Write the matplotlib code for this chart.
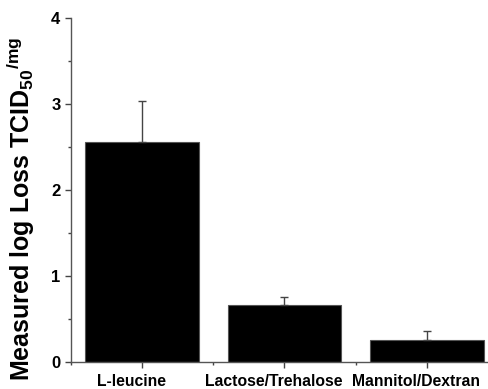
import matplotlib
matplotlib.use('Agg')
import matplotlib.pyplot as plt
import matplotlib.transforms as mtransforms
from matplotlib.ticker import MultipleLocator, FixedLocator

plt.rcParams['font.family'] = ['Liberation Sans', 'DejaVu Sans']
plt.rcParams['mathtext.fontset'] = 'custom'
plt.rcParams['mathtext.rm'] = 'Liberation Sans:bold'
plt.rcParams['mathtext.it'] = 'Liberation Sans:bold'
plt.rcParams['mathtext.bf'] = 'Liberation Sans:bold'

categories = ['L-leucine', 'Lactose/Trehalose', 'Mannitol/Dextran']
values = [2.56, 0.66, 0.26]
errors = [0.48, 0.10, 0.10]

fig = plt.figure(figsize=(4.89, 3.89), dpi=100)
ax = fig.add_axes([0.145, 0.069, 0.853, 0.885])

x = list(range(len(categories)))
ax.bar(x, values, width=0.8, color='black', edgecolor='#555555', linewidth=0.8)
ax.errorbar(x, values, yerr=[[0] * len(errors), errors], fmt='none',
            ecolor='#444444', elinewidth=1.0, capsize=3, capthick=1.0)

ax.set_xlim(-0.5, 2.43)
ax.set_ylim(0, 4)
ax.set_xticks(x)
ax.set_xticklabels([])
ax.xaxis.set_minor_locator(FixedLocator([-0.5, 0.5, 1.5]))
ax.yaxis.set_major_locator(MultipleLocator(1))
ax.yaxis.set_minor_locator(MultipleLocator(0.5))
for lab in ax.get_yticklabels():
    lab.set_fontweight('bold')
    lab.set_fontsize(12)

# category labels sit a little left of the tick centre in the original
shift = mtransforms.ScaledTranslation(-11 / 100, -12 / 100, fig.dpi_scale_trans)
trans = ax.get_xaxis_transform() + shift
for xi, name in zip(x, categories):
    ax.text(xi, 0, name, transform=trans, ha='center', va='top',
            fontsize=11.3, fontweight='bold', clip_on=False)

ax.tick_params(axis='both', which='major', direction='out', length=4, width=1, color='#444444')
ax.tick_params(axis='both', which='minor', direction='out', length=2.5, width=1, color='#444444')

for side in ['top', 'right']:
    ax.spines[side].set_visible(False)
for side in ['left', 'bottom']:
    ax.spines[side].set_color('#555555')
    ax.spines[side].set_linewidth(1.0)

fig.text(21 / 489, 1 - 209 / 389, r'Measured log Loss TCID$_{50}{}^{/mg}$',
         rotation=90, ha='center', va='center', fontsize=18, fontweight='bold')

fig.savefig('out.png', dpi=100)
